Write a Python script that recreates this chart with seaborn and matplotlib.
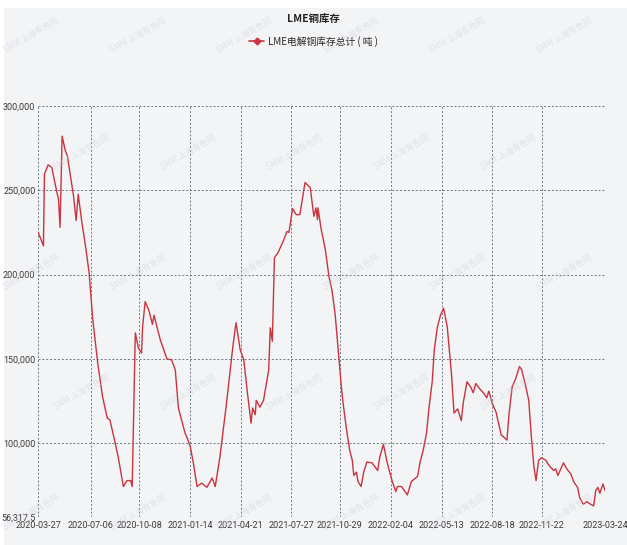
import pandas as pd
import matplotlib
matplotlib.use('Agg')
import matplotlib.pyplot as plt
import matplotlib.dates as mdates
import seaborn as sns

# LME copper stocks
dates = [
    '2020-03-27', '2020-04-06', '2020-04-08', '2020-04-15', '2020-04-22', '2020-04-28',
    '2020-05-05', '2020-05-08', '2020-05-12', '2020-05-18', '2020-05-22', '2020-05-27',
    '2020-06-03', '2020-06-08', '2020-06-12', '2020-06-19', '2020-06-26', '2020-07-03',
    '2020-07-10', '2020-07-20', '2020-07-29', '2020-08-07', '2020-08-12', '2020-08-21',
    '2020-08-28', '2020-09-07', '2020-09-14', '2020-09-21', '2020-09-24', '2020-09-30',
    '2020-10-06', '2020-10-12', '2020-10-14', '2020-10-19', '2020-10-26', '2020-11-02',
    '2020-11-05', '2020-11-17', '2020-11-30', '2020-12-09', '2020-12-16', '2020-12-22',
    '2021-01-04', '2021-01-07', '2021-01-14', '2021-01-20', '2021-01-27', '2021-02-05',
    '2021-02-15', '2021-02-25', '2021-03-03', '2021-03-12', '2021-03-18', '2021-03-24',
    '2021-04-01', '2021-04-06', '2021-04-12', '2021-04-20', '2021-04-27', '2021-05-04',
    '2021-05-11', '2021-05-14', '2021-05-19', '2021-05-21', '2021-05-28', '2021-06-04',
    '2021-06-14', '2021-06-17', '2021-06-21', '2021-06-25', '2021-07-02', '2021-07-13',
    '2021-07-19', '2021-07-23', '2021-07-30', '2021-08-06', '2021-08-13', '2021-08-23',
    '2021-09-02', '2021-09-09', '2021-09-13', '2021-09-16', '2021-09-17', '2021-09-23',
    '2021-10-01', '2021-10-08', '2021-10-14', '2021-10-20', '2021-10-27', '2021-11-01',
    '2021-11-04', '2021-11-11', '2021-11-17', '2021-11-22', '2021-11-25', '2021-11-30',
    '2021-12-03', '2021-12-09', '2021-12-14', '2021-12-20', '2021-12-30', '2022-01-10',
    '2022-01-14', '2022-01-21', '2022-01-28', '2022-02-07', '2022-02-14', '2022-02-17',
    '2022-02-25', '2022-03-08', '2022-03-16', '2022-03-28', '2022-04-01', '2022-04-08',
    '2022-04-14', '2022-04-19', '2022-04-25', '2022-04-29', '2022-05-05', '2022-05-11',
    '2022-05-17', '2022-05-24', '2022-06-01', '2022-06-06', '2022-06-13', '2022-06-20',
    '2022-06-24', '2022-07-01', '2022-07-08', '2022-07-13', '2022-07-18', '2022-07-25',
    '2022-08-03', '2022-08-08', '2022-08-12', '2022-08-19', '2022-08-26', '2022-09-05',
    '2022-09-09', '2022-09-16', '2022-09-20', '2022-09-26', '2022-10-03', '2022-10-10',
    '2022-10-14', '2022-10-21', '2022-10-28', '2022-11-02', '2022-11-07', '2022-11-11',
    '2022-11-16', '2022-11-22', '2022-11-30', '2022-12-06', '2022-12-15', '2022-12-19',
    '2022-12-23', '2023-01-03', '2023-01-09', '2023-01-17', '2023-01-23', '2023-01-30',
    '2023-02-03', '2023-02-10', '2023-02-17', '2023-02-24', '2023-03-02', '2023-03-06',
    '2023-03-10', '2023-03-14', '2023-03-20', '2023-03-24',
]
stocks = [
    225000, 217000, 259500, 265000, 263500, 254500,
    244500, 228000, 282000, 273500, 270500, 260500,
    246500, 232000, 247500, 231000, 217000, 201000,
    173500, 146500, 127500, 115000, 114000, 102000,
    92000, 74500, 78000, 78000, 74500, 165500,
    156500, 153500, 169000, 184000, 179000, 170500,
    176000, 161500, 150000, 149500, 143500, 121000,
    106000, 104000, 98000, 88000, 74500, 76500,
    74000, 79500, 74500, 92000, 107000, 122000,
    144000, 157500, 171500, 155500, 149500, 130000,
    112000, 121000, 117000, 125500, 121500, 125500,
    143500, 168500, 160500, 210000, 213000, 220500,
    225500, 225000, 239000, 235500, 235500, 254500,
    251500, 234500, 239500, 232500, 239500, 227000,
    215000, 199000, 190500, 176500, 151500, 133500,
    124500, 108000, 96000, 90000, 81000, 83000,
    77500, 74500, 83000, 89000, 88500, 84000,
    92000, 99500, 89000, 77500, 71500, 74500,
    74500, 69500, 77500, 80500, 88000, 96500,
    106000, 121500, 136500, 155500, 169000, 176000,
    180000, 169000, 141500, 118000, 120500, 113500,
    124500, 136500, 133500, 130000, 135500, 132500,
    129500, 127000, 131000, 123500, 118500, 105000,
    104000, 102000, 117500, 133500, 138500, 145500,
    144000, 135500, 125500, 104000, 86000, 78000,
    90000, 91500, 90000, 87000, 84000, 85000,
    81000, 88500, 85000, 82000, 77000, 74000,
    68000, 64000, 65500, 64000, 63000, 72000,
    74000, 70500, 76000, 72000,
]

x_ticks = ['2020-03-27', '2020-07-06', '2020-10-08', '2021-01-14', '2021-04-21', '2021-07-27',
           '2021-10-29', '2022-02-04', '2022-05-13', '2022-08-18', '2022-11-22', '2023-03-24']
y_ticks = [56317.5, 100000, 150000, 200000, 250000, 300000]
y_labels = ['56,317.5', '100,000', '150,000', '200,000', '250,000', '300,000']

df = pd.DataFrame({'date': pd.to_datetime(dates), 'stock': stocks})

sns.set_theme(style='white')
plt.rcParams['font.family'] = ['Roboto', 'Noto Sans CJK SC', 'DejaVu Sans']
cjk = ['Noto Sans CJK SC', 'DejaVu Sans']

bg = '#f3f4f6'
red = '#c9343f'

fig = plt.figure(figsize=(6.27, 5.45), dpi=100, facecolor='white')
# light grey panel behind everything (thin white strip at top/left like the source)
fig.patches.append(plt.Rectangle((0.006, 0.0), 0.994, 0.985, transform=fig.transFigure,
                                 facecolor=bg, edgecolor='none', zorder=-10))
ax = fig.add_axes([0.061, 0.051, 0.904, 0.755])
ax.set_facecolor(bg)

sns.lineplot(data=df, x='date', y='stock', ax=ax, color=red, linewidth=1.0, legend=False)

ax.set_xlim(pd.Timestamp(x_ticks[0]), pd.Timestamp(x_ticks[-1]))
ax.set_ylim(y_ticks[0], y_ticks[-1])
ax.set_xticks(pd.to_datetime(x_ticks))
ax.xaxis.set_major_formatter(mdates.DateFormatter('%Y-%m-%d'))
ax.set_yticks(y_ticks)
ax.set_yticklabels(y_labels)
ax.set_xlabel('')
ax.set_ylabel('')
ax.tick_params(length=0, labelsize=6.5, colors='#3a3a3a', pad=2)
ax.tick_params(axis='x', pad=3)

ax.grid(True, color='#6b7785', linestyle=(0, (2, 2)), linewidth=0.7)
for s in ax.spines.values():
    s.set_visible(False)

# title and legend
fig.text(0.5, 0.965, 'LME铜库存', ha='center', va='center', fontsize=7.5,
         fontweight='bold', color='#222222', family=cjk)
handle = plt.Line2D([], [], color=red, linewidth=1.2, marker='D', markersize=3.5)
fig.legend([handle], ['LME电解铜库存总计 ( 吨 )'], loc='center', bbox_to_anchor=(0.5, 0.924),
           frameon=False, handlelength=1.6, handletextpad=0.4,
           prop={'family': cjk, 'size': 7})

# faint watermark tiles
wm_even = [0.05, 0.22, 0.39, 0.56, 0.73, 0.90]
wm_odd = [0.13, 0.30, 0.47, 0.64, 0.81]
wm_y = [0.935, 0.72, 0.50, 0.28, 0.06]
for i, wy in enumerate(wm_y):
    for wx in (wm_odd if i % 2 else wm_even):
        fig.text(wx, wy, 'SMM 上海有色网', rotation=30, ha='center',
                 va='center', fontsize=6, color='#c8ccd2', alpha=0.45, family=cjk)

fig.savefig('out.png', dpi=100, facecolor=fig.get_facecolor())
